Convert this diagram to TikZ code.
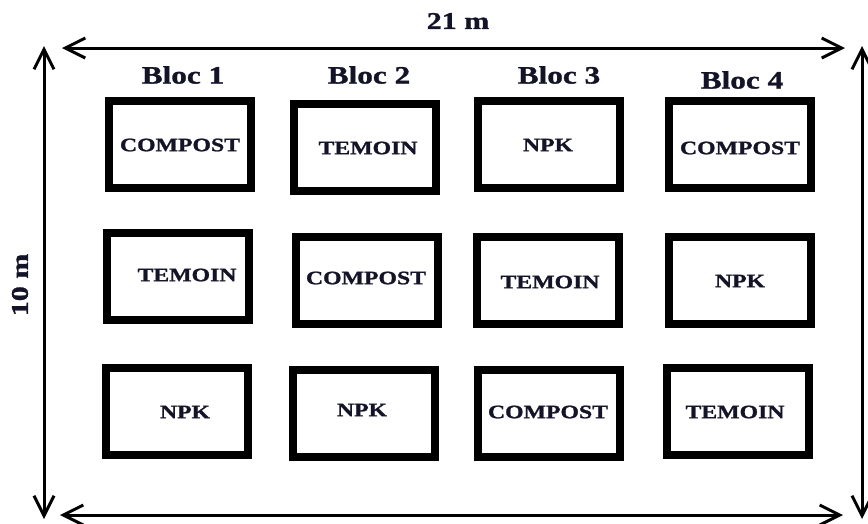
\documentclass[tikz,border=0pt]{standalone}
\usepackage{fontspec}
\newfontfamily\labfont{Liberation Serif Bold}[FakeStretch=1.25, FakeBold=1.2]
\usetikzlibrary{arrows.meta}
\definecolor{ink}{HTML}{141428}
\tikzset{
  plot/.style={draw=black, line width=8pt, minimum width=142pt, minimum height=87pt,
    inner sep=0pt},
  plottext/.style={font=\labfont\fontsize{19}{19}\selectfont, text=ink},
  dimline/.style={line width=3pt, {Straight Barb[length=20pt,width=20pt,line width=3pt]}-{Straight Barb[length=20pt,width=20pt,line width=3pt]}},
  bloclabel/.style={font=\labfont\fontsize{25}{25}\selectfont, text=ink},
  dimlabel/.style={font=\labfont\fontsize{24}{24}\selectfont, text=ink}
}
\begin{document}
\begin{tikzpicture}[x=1pt,y=-1pt]
\useasboundingbox (0,0) rectangle (868,523);
% dimension arrows
\coordinate (tl) at (62,48);
\coordinate (tr) at (845,48);
\coordinate (bl) at (60,515);
\coordinate (br) at (843,515);
\coordinate (lt) at (44,46);
\coordinate (lb) at (44,519);
\coordinate (rt) at (862,46);
\coordinate (rb) at (862,519);
\draw[dimline] (tl) -- (tr);
\draw[dimline] (bl) -- (br);
\draw[dimline] (lt) -- (lb);
\draw[dimline] (rt) -- (rb);
\node[dimlabel] (w) at (458,21) {21 m};
\node[dimlabel, rotate=90] (h) at (20,285) {10 m};
% bloc labels
\node[bloclabel] (b1) at (183,75) {Bloc 1};
\node[bloclabel] (b2) at (369,75) {Bloc 2};
\node[bloclabel] (b3) at (559,75) {Bloc 3};
\node[bloclabel] (b4) at (742,80) {Bloc 4};
% row 1
\node[plot] (p11) at (180,144) {};
\node[plot] (p12) at (365,147) {};
\node[plot] (p13) at (549,144) {};
\node[plot] (p14) at (740,144) {};
\node[plottext] (t11) at (180,145) {COMPOST};
\node[plottext] (t12) at (368,148) {TEMOIN};
\node[plottext] (t13) at (548,145) {NPK};
\node[plottext] (t14) at (740,148) {COMPOST};
% row 2
\node[plot] (p21) at (178,276) {};
\node[plot] (p22) at (367,280) {};
\node[plot] (p23) at (548,280) {};
\node[plot] (p24) at (740,280) {};
\node[plottext] (t21) at (187,275) {TEMOIN};
\node[plottext] (t22) at (366,278) {COMPOST};
\node[plottext] (t23) at (550,282) {TEMOIN};
\node[plottext] (t24) at (740,281) {NPK};
% row 3
\node[plot] (p31) at (177,411) {};
\node[plot] (p32) at (364,413) {};
\node[plot] (p33) at (549,413) {};
\node[plot] (p34) at (738,411) {};
\node[plottext] (t31) at (185,412) {NPK};
\node[plottext] (t32) at (362,410) {NPK};
\node[plottext] (t33) at (548,412) {COMPOST};
\node[plottext] (t34) at (735,412) {TEMOIN};
\end{tikzpicture}
\end{document}
